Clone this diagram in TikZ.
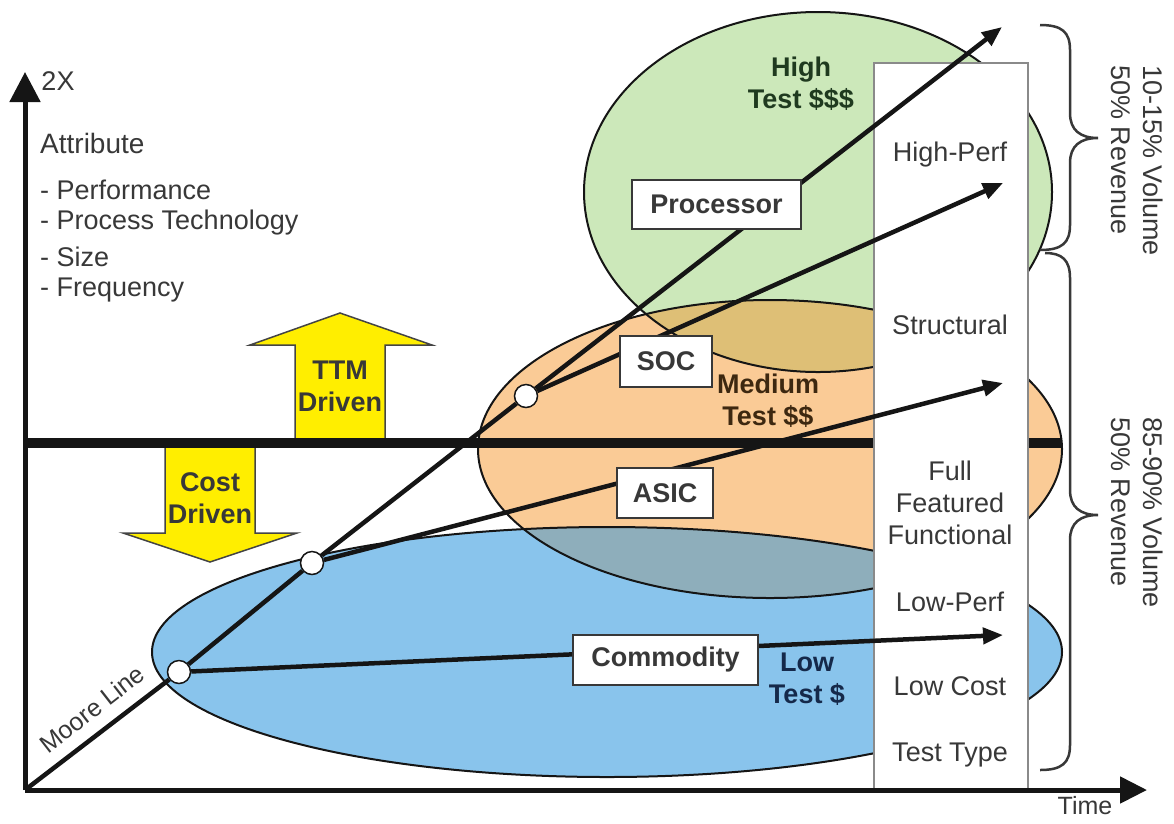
\documentclass[tikz,border=0pt]{standalone}
\usepackage{fontspec}
\setmainfont{Liberation Sans}
\usetikzlibrary{arrows.meta}

\definecolor{greenF}{HTML}{CCE8BA}
\definecolor{orangeF}{HTML}{FACB96}
\definecolor{blueF}{HTML}{89C4EC}
\definecolor{goldF}{HTML}{DEBF76}
\definecolor{slateF}{HTML}{8EAEBB}
\definecolor{driveY}{HTML}{FFEE00}
\definecolor{ink}{HTML}{151515}
\definecolor{txtgray}{HTML}{383838}
\definecolor{boxgray}{HTML}{8A8A8A}
\definecolor{greenT}{HTML}{1F3A1F}
\definecolor{brownT}{HTML}{3D2810}
\definecolor{blueT}{HTML}{15294A}

\tikzset{
  plain/.style={font=\fontsize{27}{32}\selectfont, text=txtgray, inner sep=0pt},
  boldtxt/.style={font=\fontsize{27}{32}\selectfont\bfseries, align=center, inner sep=0pt},
  tag/.style={draw=txtgray, line width=1.5pt, fill=white, inner sep=0pt,
    font=\fontsize{27}{32}\selectfont\bfseries, text=txtgray},
  dot/.style={circle, draw=ink, line width=1.5pt, fill=white, minimum size=23pt, inner sep=0pt},
  ray/.style={draw=ink, line width=4.5pt, -{Triangle[length=20pt,width=16pt]}},
  mooreseg/.style={draw=ink, line width=4.5pt},
  axis/.style={draw=ink, line width=5pt},
  blob/.style={draw=ink, line width=2pt},
  yarrow/.style={fill=driveY, draw=ink!80, line width=1.5pt, line join=miter},
  curly/.style={draw=txtgray, line width=2.5pt},
}

\begin{document}
\begin{tikzpicture}[x=1pt, y=-1pt]
\useasboundingbox (0,0) rectangle (1174,823);
\fill[white] (0,0) rectangle (1174,823);

% test-cost regions
\fill[blueF]   (607,652) ellipse [x radius=455, y radius=125];
\fill[orangeF] (770,449) ellipse [x radius=292, y radius=149];
\fill[greenF]  (818,192) ellipse [x radius=234, y radius=180];
\begin{scope}
  \clip (770,449) ellipse [x radius=292, y radius=149];
  \fill[goldF]  (818,192) ellipse [x radius=234, y radius=180];
  \fill[slateF] (607,652) ellipse [x radius=455, y radius=125];
\end{scope}
\draw[blob] (607,652) ellipse [x radius=455, y radius=125];
\draw[blob] (770,449) ellipse [x radius=292, y radius=149];
\draw[blob] (818,192) ellipse [x radius=234, y radius=180];

% TTM / cost driven arrows
\draw[yarrow] (295,440) -- (295,345) -- (250,345) -- (340,313) -- (432,345) -- (385,345) -- (385,440) -- cycle;
\node[boldtxt, text=ink!85] (ttm) at (340,386) {TTM\\Driven};
\draw[yarrow] (165,446) -- (165,533) -- (123,533) -- (210,562) -- (297,533) -- (255,533) -- (255,446) -- cycle;
\node[boldtxt, text=ink!85] (cost) at (210,498) {Cost\\Driven};

% split line between TTM and cost driven
\coordinate (barL) at (25,443);
\coordinate (barR) at (1062,443);
\draw[ink, line width=10pt] (barL) -- (barR);

% test type column
\node[draw=boxgray, fill=white, line width=1.5pt, minimum width=154pt, minimum height=728pt,
      anchor=north west, inner sep=0pt] (testcol) at (873,62) {};
\node[plain] (hp)  at (950,155) {High-Perf};
\node[plain] (st)  at (950,325) {Structural};
\node[plain, align=center] (ff) at (950,503) {Full\\Featured\\Functional};
\node[plain] (lp)  at (950,602) {Low-Perf};
\node[plain] (lc)  at (950,686) {Low Cost};
\node[plain] (tt)  at (950,755) {Test Type};

% axes
\coordinate (origin) at (25,790);
\coordinate (xtip) at (1147,790);
\coordinate (ytip) at (25,72);
\draw[axis, -{Triangle[length=27pt,width=26pt]}] (origin) -- (xtip);
\draw[axis, -{Triangle[length=30pt,width=30pt]}] (origin) -- (ytip);
\node[plain] (twox) at (58,81) {2X};
\node[plain, font=\fontsize{25}{30}\selectfont] (time) at (1085,806) {Time};

% attribute list
\node[plain, anchor=west, font=\fontsize{28}{32}\selectfont] (attr) at (40,143) {Attribute};
\node[plain, anchor=west] (a1) at (40,190) {- Performance};
\node[plain, anchor=west] (a2) at (40,223) {- Process Technology};
\node[plain, anchor=west] (a3) at (40,257) {- Size};
\node[plain, anchor=west] (a4) at (40,290) {- Frequency};

% branch points on the Moore line
\node[dot] (c1) at (179,672) {};
\node[dot] (c2) at (312,563) {};
\node[dot] (c3) at (526,396) {};
\coordinate (tipP) at (1002,27);
\coordinate (tipH) at (1003,183);
\coordinate (tipA) at (1003,383);
\coordinate (tipC) at (1003,635);

\draw[mooreseg] (origin) -- (c1);
\draw[mooreseg] (c1) -- (c2);
\draw[mooreseg] (c2) -- (c3);
\draw[ray] (c3) -- (tipP);
\draw[ray] (c3) -- (tipH);
\draw[ray] (c2) -- (tipA);
\draw[ray] (c1) -- (tipC);

\node[plain, rotate=38, font=\fontsize{25}{30}\selectfont] (moore) at (92,709) {Moore Line};

% product labels
\node[tag, minimum width=169pt, minimum height=49pt] (proc) at (716.5,204.5) {Processor};
\node[tag, minimum width=92pt, minimum height=51pt] (soc) at (666,361.5) {SOC};
\node[tag, minimum width=96pt, minimum height=50pt] (asic) at (665,493) {ASIC};
\node[tag, minimum width=185pt, minimum height=50pt] (comm) at (665.5,660) {Commodity};

% test cost labels
\node[boldtxt, text=greenT] (hi) at (801,84) {High\\Test \$\$\$};
\node[boldtxt, text=brownT] (med) at (768,401) {Medium\\Test \$\$};
\node[boldtxt, text=blueT] (low) at (807,679) {Low\\Test \$};

% volume / revenue braces
\draw[curly] (1040,25) .. controls (1062,25) and (1070,32) .. (1070,50) -- (1070,113)
  .. controls (1070,130) and (1080,138) .. (1098,138)
  .. controls (1080,138) and (1070,146) .. (1070,163) -- (1070,225)
  .. controls (1070,243) and (1062,250) .. (1040,250);
\draw[curly] (1045,253) .. controls (1062,253) and (1070,260) .. (1070,278) -- (1070,490)
  .. controls (1070,507) and (1080,515) .. (1098,515)
  .. controls (1080,515) and (1070,523) .. (1070,540) -- (1070,745)
  .. controls (1070,763) and (1062,770) .. (1040,770);
\node[plain, align=left, rotate=-90, anchor=west] (upvol) at (1137,65) {10-15\% Volume\\50\% Revenue};
\node[plain, align=left, rotate=-90, anchor=west] (lowvol) at (1137,417) {85-90\% Volume\\50\% Revenue};
\end{tikzpicture}
\end{document}
